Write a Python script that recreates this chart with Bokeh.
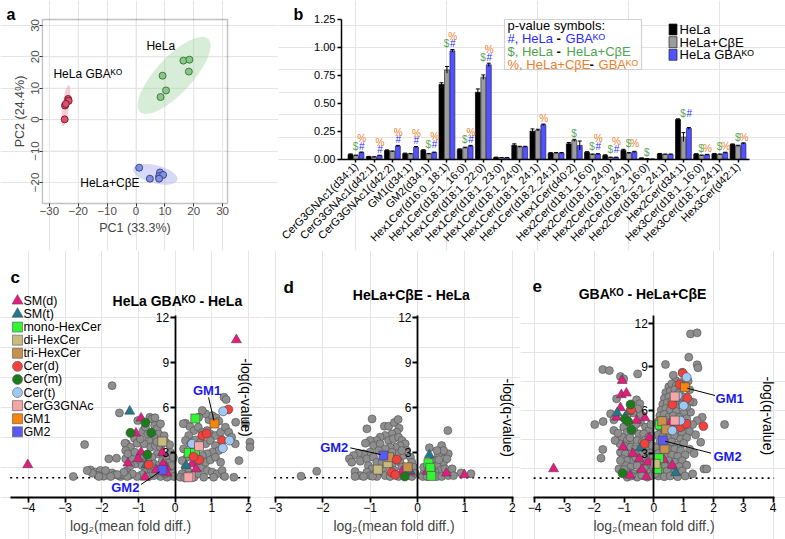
import math
from bokeh.plotting import figure
from bokeh.models import (ColumnDataSource, LinearAxis, FixedTicker, Label,
                          BoxAnnotation, NumeralTickFormatter, Arrow)
from bokeh.transform import dodge
from bokeh.layouts import column, row
from bokeh.embed import file_html
from bokeh.resources import INLINE
from bokeh.core.properties import value

FONT = "Liberation Sans"
KO = "\u1D37\u1D3C"

# ---------------- panel a : PCA ----------------
pca_hela_x = [9.2, 10.4, 8.5, 16.4, 18.5, 18.3]
pca_hela_y = [14.0, 9.3, 7.2, 18.8, 19.1, 15.3]
pca_ko_x = [-24.6, -23.5, -23.3, -24.7, -24.3]
pca_ko_y = [4.5, 6.6, 6.0, 0.1, 5.0]
pca_cbe_x = [1.1, 4.8, 8.3, 8.0, 9.4, 8.0]
pca_cbe_y = [-15.3, -18.8, -16.8, -18.0, -17.6, -18.8]
pca_ticks_x = [-30, -20, -10, 0, 10, 20, 30]
pca_ticks_y = [-20, -10, 0, 10, 20, 30]
pca_box_x = (-32.4, 31.7)
pca_box_y = (-26.7, 31.9)

# ---------------- panel b : bars ----------------
lipids = ["CerG3GNAc1(d34:1)", "CerG3GNAc1(d42:1)", "CerG3GNAc1(d42:2)", "GM1(d34:1)", "GM2(d34:1)",
          "Hex1Cer(d16:0_18:1)", "Hex1Cer(d18:1_16:0)", "Hex1Cer(d18:1_22:0)", "Hex1Cer(d18:1_23:0)",
          "Hex1Cer(d18:1_24:0)", "Hex1Cer(d18:1_24:1)", "Hex1Cer(d18:2_24:1)", "Hex1Cer(d40:2)",
          "Hex2Cer(d18:1_16:0)", "Hex2Cer(d18:1_24:0)", "Hex2Cer(d18:1_24:1)", "Hex2Cer(d18:2_16:0)",
          "Hex2Cer(d18:2_24:1)", "Hex2Cer(d34:1)", "Hex3Cer(d18:1_16:0)", "Hex3Cer(d18:1_24:1)", "Hex3Cer(d42:1)"]
hela = [0.045, 0.025, 0.080, 0.052, 0.082, 0.670, 0.090, 0.600, 0.018, 0.128, 0.253, 0.057, 0.140,
        0.065, 0.036, 0.083, 0.012, 0.050, 0.357, 0.048, 0.050, 0.134]
cbe = [0.035, 0.022, 0.072, 0.050, 0.050, 0.800, 0.105, 0.735, 0.015, 0.113, 0.262, 0.058, 0.170,
       0.045, 0.018, 0.057, 0.006, 0.045, 0.200, 0.036, 0.045, 0.122]
gba = [0.062, 0.035, 0.120, 0.110, 0.062, 0.970, 0.120, 0.845, 0.015, 0.113, 0.310, 0.058, 0.125,
       0.048, 0.018, 0.068, 0.003, 0.045, 0.277, 0.042, 0.060, 0.143]
hela_err = [0.005, 0.003, 0.006, 0.005, 0.005, 0.015, 0.005, 0.030, 0.003, 0.012, 0.020, 0.004, 0.012,
            0.005, 0.006, 0.008, 0.002, 0.004, 0.006, 0.004, 0.004, 0.005]
cbe_err = [0.004, 0.003, 0.004, 0.004, 0.004, 0.030, 0.005, 0.020, 0.002, 0.005, 0.008, 0.004, 0.010,
           0.004, 0.003, 0.006, 0.002, 0.004, 0.040, 0.004, 0.004, 0.005]
gba_err = [0.005, 0.003, 0.006, 0.006, 0.004, 0.012, 0.006, 0.015, 0.002, 0.005, 0.006, 0.004, 0.040,
           0.004, 0.003, 0.005, 0.001, 0.004, 0.008, 0.004, 0.005, 0.006]
sig_dollar = [1, 0, 0, 0, 1, 1, 1, 1, 0, 0, 0, 0, 1, 1, 1, 1, 1, 0, 1, 1, 1, 1]
sig_hash = [1, 1, 1, 1, 1, 1, 1, 1, 0, 0, 0, 0, 0, 1, 1, 0, 0, 0, 1, 0, 0, 0]
sig_pct = [1, 1, 1, 1, 1, 1, 1, 1, 0, 0, 1, 0, 0, 1, 1, 1, 0, 0, 0, 1, 1, 1]
bar_ticks = [0, 0.25, 0.5, 0.75, 1.0, 1.25]

# ---------------- panel c : GBA-KO vs HeLa ----------------
c_grey = [(-1.72, 7.44), (-1.52, 5.62), (-2.47, 3.51), (-2.78, 1.38), (-2.31, 1.82), (-2.17, 1.67), (-2.04, 1.78),
          (-1.81, 2.56), (-1.72, 1.62), (-1.6, 2.6), (-1.49, 1.38), (-1.35, 2.56), (-1.33, 3.56), (-1.31, 1.78),
          (-1.9, 1.5), (-1.95, 1.4), (-2.1, 1.45), (-1.65, 1.5), (-1.55, 1.45), (-1.4, 1.5), (-1.25, 1.45),
          (-1.02, 5.11), (-1.37, 3.6), (-1.22, 3.33), (-1.11, 3.93), (-1.04, 3.6), (-0.87, 4.44), (-0.81, 4.67),
          (-0.69, 5.33), (-0.63, 5.22), (-0.56, 4.78), (-0.49, 4.56), (-0.45, 4.22), (-0.58, 4.0), (-0.72, 3.78),
          (-0.85, 3.56), (-0.67, 3.33), (-0.54, 3.44), (-0.4, 3.33), (-0.49, 2.89), (-0.63, 2.67), (-0.31, 2.78),
          (-0.22, 2.56), (-0.13, 3.0), (-0.08, 2.44), (-1.17, 2.56), (-1.08, 2.22), (-0.95, 2.44), (-0.81, 1.78),
          (-0.67, 1.89), (-0.58, 2.22), (-0.45, 2.11), (-0.35, 2.44), (-0.15, 2.0), (-0.08, 1.67), (-0.04, 1.38),
          (-0.22, 1.33), (-0.4, 1.38), (-0.58, 1.44), (-0.72, 1.38), (-0.9, 1.51), (-1.04, 1.38), (-1.17, 1.56),
          (-1.31, 1.38), (-1.4, 1.67), (-1.58, 1.51), (-1.76, 1.38), (-1.9, 1.78), (-2.08, 1.38), (-2.26, 1.6),
          (-2.4, 1.78), (-1.35, 3.11), (-1.29, 2.89), (-1.22, 2.11), (-0.9, 2.11), (-0.76, 2.56), (-0.31, 1.78),
          (-0.45, 1.67), (-0.17, 2.27), (-0.05, 2.67), (-0.26, 3.67), (-0.4, 4.89), (-0.55, 5.3), (-0.3, 4.1),
          (-0.15, 3.5), (-0.95, 3.9), (-0.75, 4.2), (-1.1, 3.0), (-0.6, 1.6), (-0.28, 1.55), (-0.1, 2.1),
          (-0.85, 2.8), (-0.5, 3.7),
          (1.33, 6.67), (1.39, 6.51), (0.92, 5.16), (1.01, 5.44), (1.12, 5.29), (1.19, 5.07), (0.83, 5.56),
          (0.74, 5.78), (0.64, 5.33), (0.28, 4.93), (0.4, 4.71), (0.51, 4.44), (0.63, 4.67), (0.74, 4.33),
          (0.87, 4.44), (0.96, 4.22), (1.1, 4.11), (1.24, 4.33), (1.37, 4.67), (1.46, 4.33), (1.54, 4.0),
          (1.64, 3.56), (0.37, 4.11), (0.28, 3.78), (0.42, 3.56), (0.55, 3.82), (0.69, 3.67), (0.83, 3.56),
          (0.96, 3.78), (1.1, 3.44), (1.19, 3.11), (1.01, 3.0), (0.87, 2.89), (0.74, 2.78), (0.33, 2.67),
          (0.23, 3.22), (0.19, 2.44), (0.28, 2.0), (0.37, 1.67), (0.19, 1.56), (0.14, 1.33), (0.26, 1.29),
          (0.51, 1.33), (0.64, 1.56), (0.74, 2.0), (0.83, 2.33), (0.96, 2.49), (1.1, 2.67), (1.24, 2.33),
          (0.87, 1.78), (1.01, 1.67), (1.14, 1.56), (1.28, 1.78), (1.35, 1.38), (1.05, 1.33), (0.78, 1.33),
          (1.92, 4.89), (2.04, 3.67), (2.04, 3.33), (1.74, 2.44), (1.6, 1.33), (1.65, 5.0), (0.22, 4.9),
          (0.5, 3.1), (0.6, 2.4)]
c_smd = [(1.67, 10.49), (-4.02, 2.16), (-0.93, 5.27), (-1.07, 4.27), (-0.93, 3.0), (-1.29, 2.27), (-0.35, 2.98),
         (-0.24, 2.0), (-0.52, 1.82), (-0.22, 1.6), (-0.82, 1.33), (-0.33, 2.22), (0.46, 2.22), (0.57, 1.89),
         (-1.01, 2.56)]
c_smt = [(-1.24, 5.73), (-0.79, 2.16), (0.3, 2.11)]
c_mono = [(0.55, 5.25), (0.37, 2.96), (0.54, 2.96)]
c_di = [(-0.35, 3.71)]
c_cerd = [(-0.72, 2.16), (0.74, 4.11), (0.86, 4.25), (1.28, 3.78), (0.66, 2.49), (0.5, 2.7), (1.45, 5.85)]
c_cerm = [(-0.81, 4.96), (-1.22, 4.29), (-0.65, 4.29), (-0.76, 2.84)]
c_cert = [(1.31, 5.73), (1.48, 3.78), (1.3, 3.27), (0.46, 3.56)]
c_g3 = [(0.65, 3.4), (0.42, 1.38), (0.36, 1.33)]
c_gm1 = [(1.07, 4.91)]
c_gm2 = [(-0.35, 1.82)]

# ---------------- panel d : HeLa+CbE vs HeLa ----------------
d_grey = [(-2.46, 1.4), (-2.13, 1.73), (-0.96, 5.22), (-0.7, 4.73), (-0.61, 4.73), (-0.49, 4.98), (-0.41, 5.18),
          (-1.07, 4.56), (-0.39, 4.6), (-0.44, 4.33), (-0.54, 4.22), (-0.68, 4.11), (-0.79, 4.0), (-0.86, 3.78),
          (-1.0, 3.78), (-1.1, 3.6), (-0.93, 3.44), (-0.79, 3.56), (-0.61, 3.78), (-0.51, 3.89), (-0.4, 4.0),
          (-0.33, 3.78), (-0.26, 3.56), (-0.37, 3.44), (-0.47, 3.33), (-0.58, 3.33), (-0.68, 3.22), (-0.82, 3.11),
          (-1.0, 3.0), (-1.14, 2.89), (-1.25, 2.93), (-1.35, 2.78), (-1.21, 2.4), (-1.44, 2.56), (-1.39, 2.33),
          (-1.07, 2.56), (-0.93, 2.67), (-0.86, 2.33), (-1.04, 2.11), (-0.96, 1.89), (-1.07, 1.67), (-1.32, 1.71),
          (-1.21, 1.44), (-1.0, 1.44), (-0.89, 1.56), (-0.79, 1.67), (-0.72, 1.96), (-0.68, 1.44), (-0.75, 2.33),
          (-0.54, 2.11), (-0.37, 2.33), (-0.3, 2.78), (-0.23, 3.11), (-0.15, 2.67), (-0.12, 2.33), (-0.08, 2.0),
          (-0.19, 1.44), (-0.12, 1.38), (-0.4, 1.38), (-0.58, 1.38), (-0.33, 2.0), (-0.44, 2.89), (-0.54, 3.0),
          (-0.33, 3.11), (-0.86, 1.38), (-1.14, 1.38), (-1.32, 1.38), (-0.5, 1.8), (-0.65, 2.5), (-0.2, 1.8),
          (-0.05, 1.6), (-0.95, 1.4), (-0.45, 2.5),
          (0.64, 4.44), (0.25, 3.29), (0.51, 3.44), (0.53, 3.0), (0.44, 2.82), (0.65, 2.89), (0.55, 2.33),
          (0.73, 1.89), (0.92, 1.62), (1.13, 1.56), (0.34, 2.44), (0.41, 2.11), (0.48, 1.78), (0.58, 1.89),
          (0.37, 1.67), (0.41, 1.38), (0.51, 1.38), (0.65, 1.44), (0.76, 1.44), (0.13, 1.56), (0.11, 1.38),
          (0.2, 1.38), (0.13, 2.0), (0.62, 2.56), (0.55, 3.11), (0.41, 3.11), (0.3, 1.9), (0.45, 2.5)]
d_smd = [(-0.33, 1.71), (-0.15, 1.67), (0.2, 1.71), (0.61, 1.6), (0.99, 1.49)]
d_smt = [(-0.17, 1.78), (0.25, 2.82)]
d_mono = [(0.23, 2.27), (0.27, 1.96), (0.29, 1.42)]
d_di = [(-0.63, 2.27), (-0.84, 1.84)]
d_tri = [(-0.6, 2.67), (-0.21, 2.0)]
d_cerd = [(-0.44, 2.51), (-0.55, 1.67), (-0.47, 1.49)]
d_cerm = [(-0.27, 1.38)]
d_gm2 = [(-0.72, 2.78)]

# ---------------- panel e : GBA-KO vs HeLa+CbE ----------------
e_grey = [(-1.71, 8.79), (-1.49, 8.72), (-1.12, 8.31), (-0.54, 8.49), (-1.25, 6.77), (-1.98, 5.0), (-1.7, 5.2),
          (-1.71, 3.28), (-1.77, 2.68), (-1.01, 8.15), (-0.58, 6.7), (-0.47, 6.43), (-0.45, 5.74), (-1.45, 5.74),
          (-1.34, 5.32), (-0.45, 5.16), (-0.28, 4.82), (-0.17, 4.59), (-1.01, 4.82), (-0.89, 4.47), (-0.67, 4.59),
          (-0.5, 4.36), (-0.34, 4.36), (-0.17, 4.13), (-1.06, 4.13), (-0.89, 3.9), (-0.73, 3.9), (-0.56, 3.9),
          (-0.39, 3.78), (-0.22, 3.67), (-1.01, 3.55), (-0.78, 3.44), (-0.62, 3.32), (-0.17, 3.32), (-1.12, 3.09),
          (-0.95, 2.98), (-0.73, 2.98), (-0.54, 3.02), (-0.34, 3.09), (-0.13, 3.02), (-1.06, 2.63), (-0.89, 2.52),
          (-0.67, 2.52), (-0.34, 2.47), (-0.17, 2.63), (-0.95, 2.17), (-0.78, 2.06), (-0.56, 2.17), (-0.28, 2.17),
          (-0.11, 2.29), (-0.84, 1.71), (-0.67, 1.6), (-0.45, 1.71), (-0.28, 1.6), (-0.11, 1.71), (-0.89, 1.37),
          (-0.56, 1.37), (-0.22, 1.37), (-0.06, 1.48), (-1.12, 2.52), (-1.17, 1.94), (-1.14, 3.67), (-1.34, 4.59),
          (-0.54, 6.08), (-0.06, 3.55), (-0.02, 2.86), (-0.02, 2.06), (-0.7, 5.8), (-0.9, 5.6), (-0.6, 5.0),
          (-0.8, 4.1), (-0.45, 2.9), (-0.6, 2.7), (-0.4, 1.5), (-0.75, 1.45), (-1.0, 1.9), (-0.3, 3.9),
          (-0.05, 4.2), (-0.1, 5.0), (-1.2, 4.4), (-1.3, 3.9),
          (1.23, 11.25), (1.45, 11.32), (1.17, 9.64), (0.39, 9.14), (1.45, 9.12), (1.48, 8.91), (0.73, 8.03),
          (1.62, 5.5), (2.37, 5.0), (1.68, 1.94), (1.57, 3.78), (1.77, 1.94), (1.32, 6.54), (1.23, 5.85),
          (1.45, 5.27), (0.5, 7.6), (0.6, 7.8), (0.75, 7.7), (0.9, 7.9), (1.15, 8.0), (0.4, 7.2), (0.55, 7.3),
          (0.7, 7.4), (0.85, 7.2), (1.2, 7.4), (0.35, 6.8), (0.5, 6.9), (0.85, 6.7), (1.0, 6.9), (1.2, 6.6),
          (0.3, 6.4), (0.45, 6.5), (0.6, 6.6), (0.8, 6.3), (0.95, 6.4), (1.1, 6.2), (0.25, 6.0), (0.4, 6.1),
          (0.55, 6.0), (0.75, 5.9), (1.0, 5.8), (0.2, 5.6), (0.35, 5.7), (0.5, 5.5), (0.65, 5.6), (0.85, 5.5),
          (1.1, 5.4), (0.15, 5.2), (0.3, 5.3), (0.45, 5.1), (0.6, 5.0), (0.8, 5.0), (1.0, 4.9), (1.3, 5.0),
          (0.2, 4.8), (0.35, 4.7), (0.55, 4.6), (0.75, 4.5), (0.95, 4.4), (1.2, 4.5), (0.15, 4.3), (0.3, 4.2),
          (0.5, 4.1), (0.7, 4.2), (0.9, 4.0), (1.1, 4.1), (1.4, 4.3), (0.2, 3.8), (0.45, 3.7), (0.6, 3.8),
          (0.8, 3.6), (1.0, 3.7), (0.1, 3.4), (0.3, 3.4), (0.5, 3.3), (0.7, 3.3), (0.9, 3.2), (1.2, 3.3),
          (0.15, 3.0), (0.4, 2.9), (0.6, 2.9), (0.8, 2.8), (1.05, 2.9), (0.25, 2.6), (0.5, 2.5), (0.7, 2.4),
          (0.95, 2.5), (0.1, 2.2), (0.35, 2.2), (0.6, 2.1), (0.85, 2.1), (1.1, 2.2), (0.2, 1.8), (0.45, 1.8),
          (0.7, 1.7), (0.95, 1.8), (0.15, 1.45), (0.35, 1.4), (0.55, 1.45), (0.8, 1.4), (1.05, 1.45), (0.05, 1.6),
          (1.3, 1.6), (1.35, 3.0), (0.65, 8.4), (0.95, 8.6)]
e_smd = [(-3.36, 1.94), (-1.06, 8.03), (-1.09, 7.05), (-0.92, 7.16), (-1.12, 6.15), (-0.58, 5.28), (-0.3, 5.46),
         (-1.03, 3.44), (-0.49, 2.63), (-0.7, 3.0), (-0.2, 2.4), (-0.4, 1.9), (-0.8, 1.5), (-0.25, 1.4),
         (0.53, 5.05), (0.34, 2.56), (0.62, 2.17), (-0.15, 4.1), (-1.25, 5.5)]
e_smt = [(-1.23, 5.8), (-0.45, 3.39), (0.73, 1.67), (-0.85, 5.9)]
e_mono = [(0.2, 4.98), (0.17, 2.68), (0.11, 1.94)]
e_di = [(0.06, 2.29)]
e_tri = [(0.28, 5.23), (0.41, 4.66), (0.36, 3.32)]
e_cerd = [(-0.76, 6.03), (-0.31, 3.67), (0.97, 8.54), (0.87, 7.76), (0.62, 6.38), (1.12, 6.82), (0.89, 4.82),
          (1.09, 5.05), (1.66, 4.89)]
e_cerm = [(-0.78, 6.38), (-0.97, 5.39), (-0.86, 5.2), (-0.75, 4.63), (-1.05, 1.64)]
e_cert = [(1.1, 8.26), (0.89, 5.27), (0.62, 4.59), (1.0, 6.3), (0.8, 7.0)]
e_g3 = [(0.7, 6.93), (0.7, 5.27)]
e_gm1 = [(1.04, 7.57)]
e_gm2 = [(0.3, 3.9)]

threshold = 1.3

CLASS_STYLE = [
    ("SM(d)", "triangle", "#E8197F", 10),
    ("SM(t)", "triangle", "#1E7A8C", 10),
    ("mono-HexCer", "square", "#33F533", 9),
    ("di-HexCer", "square", "#C9BB80", 9),
    ("tri-HexCer", "square", "#C8924E", 9),
    ("Cer(d)", "circle", "#F2403C", 9),
    ("Cer(m)", "circle", "#1B7C1B", 9),
    ("Cer(t)", "circle", "#A0C8F4", 9),
    ("CerG3GNAc", "square", "#F5A6A8", 9),
    ("GM1", "square", "#F5850F", 9),
    ("GM2", "square", "#5A5AF2", 9),
]

COMMON = dict(output_backend="svg", toolbar_location=None, x_axis_location=None, y_axis_location=None,
              min_border_left=0, min_border_right=0, min_border_top=0, min_border_bottom=0,
              frame_align=False)


def lab(p, x, y, text, size="13px", color="black", bold=False, align="left", angle=0.0):
    p.add_layout(Label(x=x, y=y, text=text, text_font=FONT, text_font_size=size, text_color=color,
                       text_font_style="bold" if bold else "normal", text_align=align,
                       text_baseline="middle", angle=angle, angle_units="deg"))


def minus_overrides(ticks):
    return {t: ("\u2212" + str(abs(t))) for t in ticks if t < 0}


def style_axis(a, size="12px", color="black", line_w=1.5, tick_out=4):
    a.axis_line_width = line_w
    a.axis_line_color = "black"
    a.major_tick_line_width = line_w
    a.major_tick_out = tick_out
    a.major_tick_in = 0
    a.minor_tick_line_color = None
    a.major_label_text_font = FONT
    a.major_label_text_font_size = size
    a.major_label_text_color = color
    a.axis_label_text_font = FONT
    a.axis_label_text_font_style = "normal"


# ======================= panel a =======================
pa = figure(width=278, height=250, x_range=(-46.93, 49.35), y_range=(-41.67, 37.95), **COMMON)
pa.outline_line_color = None
pa.segment(x0=pca_ticks_x, y0=[pca_box_y[0]] * len(pca_ticks_x), x1=pca_ticks_x,
           y1=[pca_box_y[1]] * len(pca_ticks_x), line_color="#E6E6E6", line_width=1)
pa.segment(x0=[pca_box_x[0]] * len(pca_ticks_y), y0=pca_ticks_y, x1=[pca_box_x[1]] * len(pca_ticks_y),
           y1=pca_ticks_y, line_color="#E6E6E6", line_width=1)
pa.add_layout(BoxAnnotation(left=pca_box_x[0], right=pca_box_x[1], bottom=pca_box_y[0], top=pca_box_y[1],
                            fill_color=None, fill_alpha=0, line_color="#333333", line_width=1.4))
ax_a = LinearAxis(fixed_location=pca_box_y[0], ticker=FixedTicker(ticks=pca_ticks_x), bounds=pca_box_x,
                  axis_label="PC1 (33.3%)", major_label_overrides=minus_overrides(pca_ticks_x))
ay_a = LinearAxis(fixed_location=pca_box_x[0], ticker=FixedTicker(ticks=pca_ticks_y), bounds=pca_box_y,
                  axis_label="PC2 (24.4%)", major_label_overrides=minus_overrides(pca_ticks_y))
pa.add_layout(ax_a, "below")
pa.add_layout(ay_a, "left")
for a in (ax_a, ay_a):
    style_axis(a, size="11.5px", color="#4D4D4D", line_w=1.0, tick_out=3)
    a.axis_line_color = None
    a.major_tick_line_color = "#333333"
    a.axis_label_text_font_size = "12.5px"
ax_a.major_label_standoff = 1
ax_a.axis_label_standoff = 2
ay_a.major_label_standoff = 0
ay_a.axis_label_standoff = 2
ay_a.major_label_orientation = "vertical"

pa.ellipse(x=[13.2], y=[14.1], width=[34.6], height=[11.5], angle=[47], angle_units="deg",
           fill_color="#A8D8A8", fill_alpha=0.45, line_color=None)
pa.ellipse(x=[-24.3], y=[4.5], width=[2.4], height=[13.2], angle=[-8], angle_units="deg",
           fill_color="#F2A0B8", fill_alpha=0.55, line_color=None)
pa.ellipse(x=[6.7], y=[-17.4], width=[15.8], height=[5.8], angle=[-14], angle_units="deg",
           fill_color="#B0B4F0", fill_alpha=0.5, line_color=None)
pa.scatter(pca_hela_x, pca_hela_y, size=7, fill_color="#86C986", line_color="#2F5F2F", line_width=0.8)
pa.scatter(pca_ko_x, pca_ko_y, size=7, fill_color="#E0506E", line_color="#5A1020", line_width=0.8)
pa.scatter(pca_cbe_x, pca_cbe_y, size=7, fill_color="#8090E6", line_color="#26306A", line_width=0.8)
lab(pa, 3.6, 23.6, "HeLa", "12px")
lab(pa, -28.6, 14.4, "HeLa GBA" + KO, "12px")
lab(pa, -19.3, -20.3, "HeLa+C\u03b2E", "12px")
lab(pa, -44.85, 33.5, "a", "16px", bold=True)

# ======================= panel b =======================
idx = list(range(len(lipids)))
src = ColumnDataSource(dict(
    i=idx, hela=hela, cbe=cbe, gba=gba,
    hela_lo=[v - e for v, e in zip(hela, hela_err)], hela_hi=[v + e for v, e in zip(hela, hela_err)],
    cbe_lo=[v - e for v, e in zip(cbe, cbe_err)], cbe_hi=[v + e for v, e in zip(cbe, cbe_err)],
    gba_lo=[v - e for v, e in zip(gba, gba_err)], gba_hi=[v + e for v, e in zip(gba, gba_err)],
))
pb = figure(width=507, height=250, x_range=(-4.26, 23.61), y_range=(-0.8125, 1.4196), **COMMON)
pb.outline_line_color = None
OFF = 0.3
W = 0.27
series = [("hela", -OFF, "#000000", "#000000"), ("cbe", 0.0, "#9C9C9C", "#333333"),
          ("gba", OFF, "#5252FF", "#22226A")]
for key, off, fc, lc in series:
    xd = dodge("i", off)
    pb.vbar(x=xd, top=key, bottom=0, width=W, source=src, fill_color=fc, line_color=lc, line_width=0.7)
    pb.segment(x0=xd, y0=key + "_lo", x1=xd, y1=key + "_hi", source=src, line_color="black", line_width=1)
    pb.scatter(x=xd, y=key + "_hi", source=src, marker="dash", size=4, line_color="black", line_width=1)

base = [max(h + he, c + ce, g + ge) + 0.05
        for h, he, c, ce, g, ge in zip(hela, hela_err, cbe, cbe_err, gba, gba_err)]
d_src = ColumnDataSource(dict(i=[k for k, s in zip(idx, sig_dollar) if s],
                              y=[b for b, s in zip(base, sig_dollar) if s]))
h_src = ColumnDataSource(dict(i=[k for k, s in zip(idx, sig_hash) if s],
                              y=[b for b, s in zip(base, sig_hash) if s]))
p_src = ColumnDataSource(dict(i=[k for k, s in zip(idx, sig_pct) if s],
                              y=[b + (0.068 if hh else 0.0) for b, s, hh in zip(base, sig_pct, sig_hash) if s]))
for s, off, txt, col in [(d_src, -0.02, "$", "#5AA85A"), (h_src, OFF + 0.02, "#", "#2A2AFF"),
                         (p_src, OFF + 0.02, "%", "#F07D2A")]:
    pb.text(x=dodge("i", off), y="y", text=value(txt), source=s, text_color=col,
            text_font=value(FONT), text_font_size="10px", text_align="center", text_baseline="middle")

BX0 = -0.797
ax_b = LinearAxis(fixed_location=0, ticker=FixedTicker(ticks=idx), bounds=(BX0, 21.63),
                  major_label_overrides=dict(zip(idx, lipids)))
ay_b = LinearAxis(fixed_location=BX0, ticker=FixedTicker(ticks=bar_ticks), bounds=(0, 1.25),
                  formatter=NumeralTickFormatter(format="0.00"))
pb.add_layout(ax_b, "below")
pb.add_layout(ay_b, "left")
style_axis(ax_b, size="11px", line_w=1.5, tick_out=3)
style_axis(ay_b, size="11px", line_w=1.5, tick_out=4)
ax_b.major_label_orientation = math.pi / 4
ax_b.major_label_standoff = 2
ay_b.major_label_standoff = 2


def bx(px):  # page pixel -> x of panel b (annotation placement only)
    return (px - 355.5) / 18.19


def by(py):
    return (159 - py) / 112.0


pb.add_layout(BoxAnnotation(left=bx(504), right=bx(641), top=by(19), bottom=by(69),
                            fill_color="white", fill_alpha=1.0, line_color="#6E6E6E", line_width=1.2))
BLUE, GREEN, ORANGE = "#2A2AFF", "#4FA24F", "#F07D2A"
lab(pb, bx(507), by(25), "p-value symbols:", "13px")
lab(pb, bx(507), by(38), "#, HeLa", "13px", BLUE)
lab(pb, bx(556), by(38), "-", "13px", bold=True)
lab(pb, bx(565), by(38), "GBA" + KO, "13px", BLUE)
lab(pb, bx(507), by(51), "$, HeLa", "13px", GREEN)
lab(pb, bx(556), by(51), "-", "13px", bold=True)
lab(pb, bx(566), by(51), "HeLa+C\u03b2E", "13px", GREEN)
lab(pb, bx(507), by(64), "%, HeLa+C\u03b2E", "13px", ORANGE)
lab(pb, bx(589), by(64), "-", "13px", bold=True)
lab(pb, bx(598), by(64), "GBA" + KO, "13px", ORANGE)

leg_names = ["HeLa", "HeLa+C\u03b2E", "HeLa GBA" + KO]
leg_fill = ["#000000", "#9C9C9C", "#5252FF"]
leg_y = [by(29), by(41.7), by(54.3)]
pb.rect(x=[bx(672.5)] * 3, y=leg_y, width=8, height=11, width_units="screen", height_units="screen",
        fill_color=leg_fill, line_color="#222222", line_width=0.7)
for nm, yy in zip(leg_names, leg_y):
    lab(pb, bx(679), yy, nm, "13px")
lab(pb, bx(293), by(14.5), "b", "16px", bold=True)


# ======================= panels c, d, e =======================
def volcano(width, xr, yr, xticks, xbounds, ytop, grey, groups, letter, title, letter_xy, title_xy, ylab_xy):
    p = figure(width=width, height=289, x_range=xr, y_range=yr, **COMMON)
    p.outline_line_color = None
    # significance threshold (dotted), spanning the x-axis extent
    p.segment(x0=[xbounds[0]], y0=[threshold], x1=[xbounds[1]], y1=[threshold], line_dash="2 4",
              line_color="black", line_width=1.6)
    p.scatter([v[0] for v in grey], [v[1] for v in grey], size=8, marker="circle", fill_color="#8E8E8E",
              line_color="#4F4F4F", line_width=0.6)
    for name, marker, color, size in CLASS_STYLE:
        pts = groups.get(name, [])
        if pts:
            p.scatter([v[0] for v in pts], [v[1] for v in pts], size=size, marker=marker,
                      fill_color=color, line_color="#444444", line_width=0.6)
    xax = LinearAxis(fixed_location=0, ticker=FixedTicker(ticks=xticks), bounds=xbounds,
                     major_label_overrides=minus_overrides(xticks), axis_label="log\u2082(mean fold diff.)")
    yax = LinearAxis(fixed_location=0, ticker=FixedTicker(ticks=[3, 6, 9, 12]), bounds=(0, ytop))
    p.add_layout(xax, "below")
    p.add_layout(yax, "left")
    for a in (xax, yax):
        style_axis(a, size="12px", line_w=1.8, tick_out=5)
        a.major_label_standoff = 1
    xax.axis_label_text_font_size = "14px"
    xax.axis_label_standoff = 2
    lab(p, letter_xy[0], letter_xy[1], letter, "17px", bold=True)
    lab(p, title_xy[0], title_xy[1], title, "14px", bold=True, align="center")
    lab(p, ylab_xy[0], ylab_xy[1], "-log(q-value)", "14px", align="center", angle=-90)
    return p


pc = volcano(263, (-4.764, 2.409), (-2.82, 16.45), [-4, -3, -2, -1, 0, 1, 2], (-4.5, 2.05), 12.1, c_grey,
             dict(zip(["SM(d)", "SM(t)", "mono-HexCer", "di-HexCer", "Cer(d)", "Cer(m)", "Cer(t)", "CerG3GNAc",
                       "GM1", "GM2"],
                      [c_smd, c_smt, c_mono, c_di, c_cerd, c_cerm, c_cert, c_g3, c_gm1, c_gm2])),
             "c", "HeLa GBA" + KO + " - HeLa", (-4.49, 14.68), (0.06, 13.09), (1.94, 6.65))
for k, (name, marker, color, size) in enumerate(CLASS_STYLE):
    yy = 13.09 - k * 0.873
    pc.scatter([-4.30], [yy], size=11 if marker == "triangle" else 10, marker=marker, fill_color=color,
               line_color="#555555", line_width=0.6)
    lab(pc, -4.14, yy, name, "12.5px")
GMC = "#1A1AE6"
lab(pc, 0.87, 7.11, "GM1", "13px", GMC, bold=True, align="center")
pc.add_layout(Arrow(end=None, x_start=0.91, y_start=6.65, x_end=1.06, y_end=5.1, line_color="black", line_width=1))
lab(pc, -1.36, 0.62, "GM2", "13px", GMC, bold=True, align="center")
pc.add_layout(Arrow(end=None, x_start=-0.93, y_start=0.85, x_end=-0.42, y_end=1.7, line_color="black", line_width=1))

pd_ = volcano(257, (-3.254, 2.175), (-2.82, 16.45), [-3, -2, -1, 0, 1, 2], (-3.03, 2.03), 12.1, d_grey,
              dict(zip(["SM(d)", "SM(t)", "mono-HexCer", "di-HexCer", "tri-HexCer", "Cer(d)", "Cer(m)", "GM2"],
                       [d_smd, d_smt, d_mono, d_di, d_tri, d_cerd, d_cerm, d_gm2])),
              "d", "HeLa+C\u03b2E -  HeLa", (-2.83, 14.01), (-0.09, 13.45), (1.92, 5.3))
lab(pd_, -1.76, 3.33, "GM2", "13px", GMC, bold=True, align="center")
pd_.add_layout(Arrow(end=None, x_start=-1.42, y_start=3.29, x_end=-0.78, y_end=2.85, line_color="black", line_width=1))

pe = volcano(265, (-4.469, 4.412), (-2.93, 17.0), [-4, -3, -2, -1, 0, 1, 2, 3, 4], (-4.03, 4.03), 12.55, e_grey,
             dict(zip(["SM(d)", "SM(t)", "mono-HexCer", "di-HexCer", "tri-HexCer", "Cer(d)", "Cer(m)", "Cer(t)",
                       "CerG3GNAc", "GM1", "GM2"],
                      [e_smd, e_smt, e_mono, e_di, e_tri, e_cerd, e_cerm, e_cert, e_g3, e_gm1, e_gm2])),
             "e", "GBA" + KO + " - HeLa+C\u03b2E", (-4.07, 14.55), (-0.38, 14.0), (3.84, 5.6))
lab(pe, 2.54, 6.8, "GM1", "13px", GMC, bold=True, align="center")
pe.add_layout(Arrow(end=None, x_start=1.12, y_start=7.5, x_end=2.05, y_end=7.0, line_color="black", line_width=1))
lab(pe, 2.47, 2.79, "GM2", "13px", GMC, bold=True, align="center")
pe.add_layout(Arrow(end=None, x_start=0.38, y_start=3.85, x_end=1.92, y_end=3.02, line_color="black", line_width=1))

layout = column(row(pa, pb), row(pc, pd_, pe))
open("out.html", "w").write(file_html(layout, INLINE))
